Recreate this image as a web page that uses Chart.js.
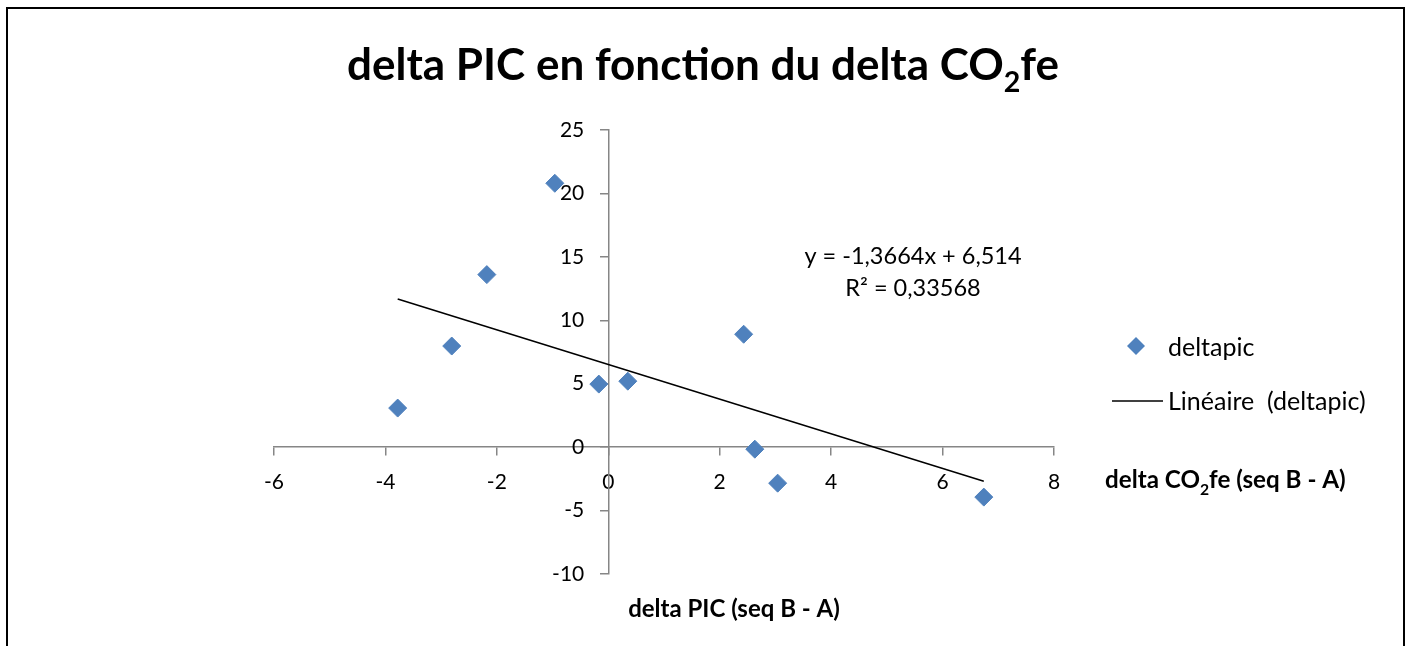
<!DOCTYPE html>
<html>
<head>
<meta charset="utf-8">
<script src="https://cdn.jsdelivr.net/npm/chart.js@4.4.1/dist/chart.umd.min.js"></script>
<style>
  html, body { margin: 0; padding: 0; background: #fff; }
  #wrap { width: 1410px; height: 646px; }
</style>
</head>
<body>
<div id="wrap"><canvas id="chart1" width="1410" height="646"></canvas></div>
<script>
// ===== Data =====
const deltaCO2fe = [-0.96, -2.18, -2.81, -3.78, -0.17, 0.35, 2.43, 2.63, 3.04, 6.74];
const deltaPIC   = [20.8, 13.6, 7.97, 3.08, 4.97, 5.2, 8.9, -0.16, -2.84, -3.94];

// trendline shown in the chart
const slope = -1.3664;
const intercept = 6.514;
const equationText = "y = -1,3664x + 6,514";
const r2Text = "R² = 0,33568";

const xTicks = [-6, -4, -2, 0, 2, 4, 6, 8];
const yTicks = [-10, -5, 0, 5, 10, 15, 20, 25];

const FONT = "Lato, 'Open Sans', sans-serif";
const BLUE = "#4F81BD";
const AXIS = "#868686";
const TICK_SIZE = 21;

let points = deltaCO2fe.map((x, i) => ({x: x, y: deltaPIC[i]}));
let xMin = Math.min(...deltaCO2fe);
let xMax = Math.max(...deltaCO2fe);
let trend = [xMin, xMax].map(x => ({x: x, y: slope * x + intercept}));

// draws text with a subscript "2" part
function drawSub(ctx, parts, x, y, size, bold, align) {
    let w = 0;
    const f = s => (bold ? "bold " : "") + s + "px " + FONT;
    parts.forEach(p => { ctx.font = f(p.sub ? size * 0.65 : size); w += ctx.measureText(p.t).width; });
    let cx = align === "center" ? x - w / 2 : x;
    ctx.textAlign = "left";
    parts.forEach(p => {
        ctx.font = f(p.sub ? size * 0.65 : size);
        ctx.fillText(p.t, cx, p.sub ? y + size * 0.28 : y);
        cx += ctx.measureText(p.t).width;
    });
}

const decor = {
    id: "decor",
    afterDraw(chart) {
        const ctx = chart.ctx;
        ctx.save();

        // outer frame
        ctx.strokeStyle = "#000";
        ctx.lineWidth = 2;
        ctx.strokeRect(7, 8, 1397, 700);

        ctx.fillStyle = "#000";
        ctx.textBaseline = "alphabetic";

        // y tick labels, left of the axis that crosses at x = 0
        const ys = chart.scales.y;
        const axisX = chart.scales.x.getPixelForValue(0);
        ctx.font = TICK_SIZE + "px " + FONT;
        ctx.textAlign = "right";
        ctx.textBaseline = "middle";
        ys.ticks.forEach(t => ctx.fillText(String(t.value), axisX - 24, ys.getPixelForValue(t.value)));
        ctx.textBaseline = "alphabetic";

        // title
        drawSub(ctx, [{t: "delta PIC en fonction du delta CO"}, {t: "2", sub: true}, {t: "fe"}],
            703, 80, 44, true, "center");

        // trendline equation
        ctx.font = "23.5px " + FONT;
        ctx.textAlign = "center";
        ctx.fillText(equationText, 913, 264);
        ctx.fillText(r2Text, 913, 296);

        // legend
        ctx.fillStyle = BLUE;
        ctx.beginPath();
        ctx.moveTo(1136, 337); ctx.lineTo(1145, 346); ctx.lineTo(1136, 355); ctx.lineTo(1127, 346);
        ctx.closePath();
        ctx.fill();
        ctx.fillStyle = "#000";
        ctx.textAlign = "left";
        ctx.font = "25px " + FONT;
        ctx.fillText("deltapic", 1168, 356);
        ctx.strokeStyle = "#000";
        ctx.lineWidth = 1.5;
        ctx.beginPath();
        ctx.moveTo(1112, 401); ctx.lineTo(1163, 401);
        ctx.stroke();
        ctx.fillText("Linéaire  (deltapic)", 1168, 410);

        // axis titles
        drawSub(ctx, [{t: "delta CO"}, {t: "2", sub: true}, {t: "fe (seq B - A)"}], 1105, 488, 24.2, true, "left");
        ctx.font = "bold 24px " + FONT;
        ctx.textAlign = "center";
        ctx.fillText("delta PIC (seq B - A)", 734, 617);

        ctx.restore();
    }
};

// ===== Chart =====
const ctx1 = document.getElementById("chart1");

let chart1 = new Chart(ctx1, {
    type: "scatter",
    data: {
        datasets: [{
            label: "deltapic",
            data: points,
            pointStyle: "rectRot",
            pointRadius: 9,
            backgroundColor: BLUE,
            borderColor: BLUE,
            borderWidth: 1
        }, {
            label: "Linéaire  (deltapic)",
            type: "line",
            data: trend,
            borderColor: "#000",
            borderWidth: 1.5,
            pointRadius: 0,
            fill: false
        }]
    },
    options: {
        responsive: false,
        animation: false,
        layout: { padding: { left: 274, right: 356, top: 130, bottom: 72 } },
        plugins: {
            legend: { display: false },
            title: { display: false },
            tooltip: { enabled: false }
        },
        scales: {
            x: {
                type: "linear",
                position: { y: 0 },
                min: -6, max: 8,
                afterBuildTicks: s => { s.ticks = xTicks.map(v => ({value: v})); },
                grid: { drawOnChartArea: false, drawTicks: true, tickLength: 8, color: AXIS, lineWidth: 1.5 },
                border: { color: AXIS, width: 1.5 },
                ticks: { color: "#000", font: { family: FONT, size: TICK_SIZE }, padding: 14 }
            },
            y: {
                type: "linear",
                position: { x: 0 },
                min: -10, max: 25,
                afterBuildTicks: s => { s.ticks = yTicks.map(v => ({value: v})); },
                grid: { drawOnChartArea: false, drawTicks: true, tickLength: 8, color: AXIS, lineWidth: 1.5 },
                border: { color: AXIS, width: 1.5 },
                // labels are drawn by the decor plugin
                ticks: { display: false }
            }
        }
    },
    plugins: [decor]
});
</script>
</body>
</html>
